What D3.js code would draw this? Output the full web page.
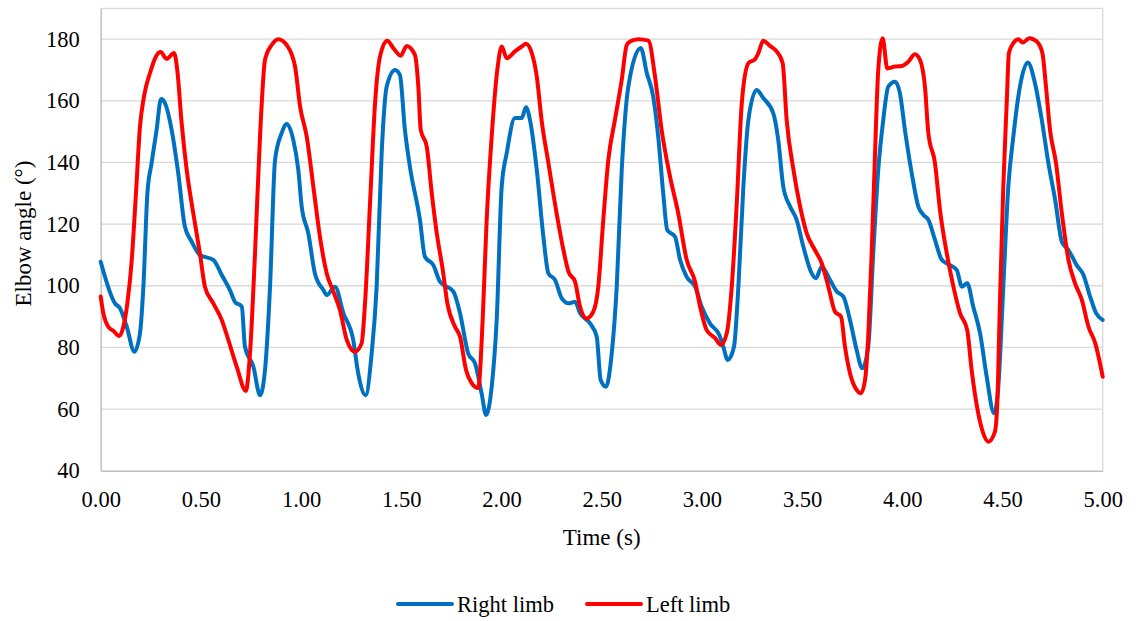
<!DOCTYPE html>
<html>
<head>
<meta charset="utf-8">
<script src="https://cdn.jsdelivr.net/npm/d3@7"></script>
<style>
  body { margin: 0; background: #fff; }
  svg text { font-family: "Liberation Serif", "Times New Roman", serif; fill: #000; }
</style>
</head>
<body>
<svg id="chart" width="1136" height="621"></svg>
<script>
// Data (time in s, elbow angle in degrees)
const seriesNames = ["Right limb", "Left limb"];
const seriesColors = ["#0070C0", "#FF0000"];
const xTicks = [0, 0.5, 1, 1.5, 2, 2.5, 3, 3.5, 4, 4.5, 5];
const yTicks = [40, 60, 80, 100, 120, 140, 160, 180];

const rightLimb = [
  [0, 107.8], [0.071, 94.3], [0.096, 92.7], [0.13, 86.7], [0.168, 78.6], [0.196, 84.6],
  [0.213, 99.7], [0.233, 130], [0.254, 139.8], [0.279, 150.6], [0.301, 160.6], [0.321, 159.2],
  [0.354, 150.6], [0.387, 136.5], [0.42, 119.2], [0.454, 114.3], [0.495, 110], [0.562, 108.4],
  [0.604, 103.5], [0.645, 98.6], [0.67, 94.8], [0.704, 93.2], [0.72, 80.2], [0.762, 73.7],
  [0.795, 64.5], [0.82, 72.7], [0.845, 99.7], [0.87, 140.8], [0.903, 149.5], [0.928, 152.5],
  [0.961, 147.3], [0.986, 137.6], [1.003, 125.7], [1.036, 117], [1.069, 104], [1.111, 98.6],
  [1.128, 97], [1.169, 99.7], [1.211, 91.1], [1.26, 82.4], [1.285, 71.6], [1.322, 64.5],
  [1.352, 78], [1.377, 99.7], [1.402, 143], [1.427, 164.6], [1.469, 170], [1.493, 168.4],
  [1.518, 150.6], [1.543, 138.6], [1.593, 121.4], [1.618, 109.4], [1.66, 106.7], [1.693, 101.3],
  [1.76, 98.1], [1.793, 91.1], [1.834, 78], [1.868, 74.8], [1.901, 65], [1.923, 58.1],
  [1.951, 67.2], [1.976, 88.9], [2.001, 132.2], [2.026, 143], [2.067, 154.4], [2.101, 154.4],
  [2.122, 157.9], [2.142, 153.8], [2.176, 137.6], [2.209, 115.9], [2.234, 104], [2.267, 101.9],
  [2.301, 95.9], [2.334, 94.3], [2.367, 94.8], [2.392, 91.1], [2.442, 87.8], [2.475, 83.5],
  [2.495, 69.4], [2.521, 67.2], [2.55, 78], [2.575, 99.7], [2.6, 137.6], [2.633, 164.6],
  [2.695, 177.1], [2.725, 169], [2.757, 161.4], [2.782, 148.4], [2.807, 130], [2.827, 118.1],
  [2.866, 115.9], [2.891, 108.4], [2.924, 102.9], [2.966, 99.7], [2.999, 93.2], [3.04, 87.8],
  [3.087, 84], [3.107, 80.2], [3.129, 75.9], [3.16, 80.2], [3.182, 99.7], [3.207, 132.2],
  [3.232, 153.8], [3.273, 163.5], [3.306, 160.9], [3.356, 156], [3.381, 147.3], [3.406, 132.2],
  [3.44, 125.7], [3.473, 121.4], [3.506, 112.7], [3.548, 104], [3.569, 102.4], [3.598, 106.2],
  [3.639, 101.9], [3.673, 98.1], [3.706, 96.5], [3.739, 88.9], [3.772, 79.2], [3.8, 73.2],
  [3.83, 80.2], [3.855, 110.5], [3.88, 137.6], [3.905, 153.8], [3.93, 164.6], [3.964, 166.2],
  [3.988, 162.5], [4.013, 150.6], [4.047, 136.5], [4.08, 125.7], [4.105, 123], [4.13, 121.4],
  [4.163, 114.9], [4.197, 108.4], [4.238, 106.7], [4.272, 105.1], [4.297, 99.7], [4.324, 100.8],
  [4.354, 93.2], [4.388, 84.6], [4.421, 70.5], [4.458, 58.6], [4.479, 67.2], [4.504, 99.7],
  [4.529, 132.2], [4.554, 148.4], [4.587, 164.6], [4.626, 172.4], [4.662, 165.7], [4.696, 153.8],
  [4.729, 139.8], [4.763, 127.8], [4.796, 114.3], [4.829, 111.6], [4.87, 106.7], [4.904, 103.5],
  [4.937, 96.5], [4.967, 91.1], [5.0, 88.9]
];

const leftLimb = [
  [0, 96.5], [0.013, 91.1], [0.038, 86.7], [0.063, 85.4], [0.093, 83.7], [0.113, 86.7],
  [0.133, 94.3], [0.155, 108.4], [0.176, 130], [0.196, 151.6], [0.216, 161.4], [0.246, 169],
  [0.276, 174.4], [0.299, 175.8], [0.329, 173.6], [0.366, 175.5], [0.382, 170], [0.404, 152.7],
  [0.429, 137.6], [0.462, 123.5], [0.495, 110.5], [0.52, 99.7], [0.562, 94.3], [0.604, 88.9],
  [0.637, 82.4], [0.679, 73.7], [0.724, 65.9], [0.745, 78], [0.77, 110.5], [0.795, 148.4],
  [0.82, 173.3], [0.853, 178.1], [0.886, 180], [0.928, 178.1], [0.97, 171.1], [0.995, 158.1],
  [1.028, 148.4], [1.061, 132.2], [1.094, 115.9], [1.128, 104], [1.161, 98.1], [1.194, 92.1],
  [1.228, 82.4], [1.269, 78.6], [1.302, 81.3], [1.319, 94.3], [1.344, 126.8], [1.369, 159.2],
  [1.394, 174.4], [1.43, 179.5], [1.46, 177.1], [1.497, 174.6], [1.527, 177.8], [1.568, 174.9],
  [1.585, 164.6], [1.597, 150.6], [1.627, 145.1], [1.652, 130], [1.677, 117], [1.707, 105.1],
  [1.73, 94.3], [1.768, 86.7], [1.793, 83.5], [1.823, 72.7], [1.851, 68.4], [1.884, 66.8],
  [1.906, 88.9], [1.926, 121.4], [1.951, 148.4], [1.979, 170], [2.001, 177.6], [2.026, 173.8],
  [2.067, 176], [2.101, 177.6], [2.122, 178.5], [2.151, 175.5], [2.176, 167.9], [2.2, 153.8],
  [2.234, 139.8], [2.275, 123.5], [2.309, 111.6], [2.334, 104.6], [2.367, 101.3], [2.392, 93.2],
  [2.425, 89.4], [2.458, 91.6], [2.483, 99.7], [2.508, 121.4], [2.533, 140.8], [2.566, 153.8],
  [2.6, 166.8], [2.625, 178.1], [2.641, 179.2], [2.683, 180], [2.733, 179.5], [2.766, 167.9],
  [2.799, 150.6], [2.841, 135.4], [2.882, 123.5], [2.924, 108.4], [2.966, 101.3], [2.991, 93.2],
  [3.024, 85.6], [3.066, 83], [3.094, 80.8], [3.124, 84.6], [3.149, 99.7], [3.174, 126.8],
  [3.199, 159.2], [3.232, 172.2], [3.265, 173.5], [3.282, 175.5], [3.306, 179.5], [3.34, 177.8],
  [3.373, 176], [3.403, 172.2], [3.423, 153.8], [3.457, 137.6], [3.49, 125.7], [3.523, 117],
  [3.564, 111.6], [3.598, 107.3], [3.631, 99.7], [3.664, 91.6], [3.694, 90], [3.714, 80.2],
  [3.739, 71.6], [3.772, 66.2], [3.794, 65.1], [3.814, 69.4], [3.83, 83.5], [3.847, 110.5],
  [3.864, 143], [3.88, 170], [3.902, 180.3], [3.925, 170.5], [3.964, 171.1], [3.997, 171.3],
  [4.03, 172.7], [4.063, 175.1], [4.088, 173.3], [4.113, 164.6], [4.13, 149.5], [4.163, 139.8],
  [4.188, 124.6], [4.222, 110.5], [4.255, 99.7], [4.288, 91.1], [4.324, 85.6], [4.346, 72.7],
  [4.379, 58.6], [4.404, 52.1], [4.429, 49.4], [4.462, 52.6], [4.474, 61.9], [4.487, 94.3],
  [4.504, 132.2], [4.521, 159.2], [4.532, 175.5], [4.554, 178.7], [4.579, 180], [4.601, 178.9],
  [4.634, 180.3], [4.671, 179.2], [4.699, 175.5], [4.717, 164.6], [4.737, 150.6], [4.767, 139.8],
  [4.796, 123.5], [4.829, 108.4], [4.862, 100.8], [4.896, 95.4], [4.929, 86.7], [4.963, 81.3],
  [5.0, 70.5]
];

const allSeries = [rightLimb, leftLimb];

// Layout
const svgWidth = 1136, svgHeight = 621;
const margin = { top: 8.3, right: 33.3, bottom: 150.3, left: 100.7 };
const innerWidth = svgWidth - margin.left - margin.right;
const innerHeight = svgHeight - margin.top - margin.bottom;

const svg = d3.select("#chart");

const xScale = d3.scaleLinear().domain([0, 5]).range([0, innerWidth]);
const yScale = d3.scaleLinear().domain([40, 190]).range([innerHeight, 0]);

const g = svg.append("g")
  .attr("transform", `translate(${margin.left},${margin.top})`);

// Horizontal gridlines (incl. top border at 190)
g.append("g")
  .selectAll("line")
  .data(yTicks.slice(1).concat([190]))
  .join("line")
  .attr("x1", 0)
  .attr("x2", innerWidth)
  .attr("y1", d => yScale(d))
  .attr("y2", d => yScale(d))
  .attr("stroke", "#d9d9d9")
  .attr("stroke-width", 1.3);

// Right border
g.append("line")
  .attr("x1", innerWidth).attr("x2", innerWidth)
  .attr("y1", 0).attr("y2", innerHeight)
  .attr("stroke", "#d9d9d9")
  .attr("stroke-width", 1.3);

// Axes
const yAxis = d3.axisLeft(yScale).tickValues(yTicks).tickSize(0).tickPadding(21);
const xAxis = d3.axisBottom(xScale).tickValues(xTicks).tickSize(0).tickPadding(20)
  .tickFormat(d3.format(".2f"));

const yAxisG = g.append("g").call(yAxis);
const xAxisG = g.append("g").attr("transform", `translate(0,${innerHeight})`).call(xAxis);

[yAxisG, xAxisG].forEach(a => {
  a.attr("font-size", null).attr("font-family", null);
  a.select(".domain").attr("stroke", "#bfbfbf").attr("stroke-width", 1.5);
  a.selectAll(".tick line").remove();
  a.selectAll("text")
    .style("font-family", "'Liberation Serif', serif")
    .style("font-size", "22.5px")
    .attr("fill", "#000");
});

// Lines
const line = d3.line()
  .x(d => xScale(d[0]))
  .y(d => yScale(d[1]))
  .curve(d3.curveMonotoneX);

g.selectAll(".series")
  .data(allSeries)
  .join("path")
  .attr("class", "series")
  .attr("fill", "none")
  .attr("stroke", (d, i) => seriesColors[i])
  .attr("stroke-width", 4)
  .attr("stroke-linejoin", "round")
  .attr("stroke-linecap", "round")
  .attr("d", line);

// Axis titles
svg.append("text")
  .attr("transform", `translate(31,${margin.top + innerHeight / 2 - 6}) rotate(-90)`)
  .attr("text-anchor", "middle")
  .style("font-size", "23px")
  .text("Elbow angle (°)");

svg.append("text")
  .attr("x", margin.left + innerWidth / 2)
  .attr("y", 545)
  .attr("text-anchor", "middle")
  .style("font-size", "23px")
  .text("Time (s)");

// Legend
const legendItems = [
  { x: 398, label: seriesNames[0], color: seriesColors[0] },
  { x: 587, label: seriesNames[1], color: seriesColors[1] }
];
const legend = svg.append("g");
legendItems.forEach(item => {
  legend.append("line")
    .attr("x1", item.x).attr("x2", item.x + 54)
    .attr("y1", 604).attr("y2", 604)
    .attr("stroke", item.color)
    .attr("stroke-width", 4)
    .attr("stroke-linecap", "round");
  legend.append("text")
    .attr("x", item.x + 59)
    .attr("y", 612)
    .style("font-size", "22.5px")
    .text(item.label);
});
</script>
</body>
</html>
